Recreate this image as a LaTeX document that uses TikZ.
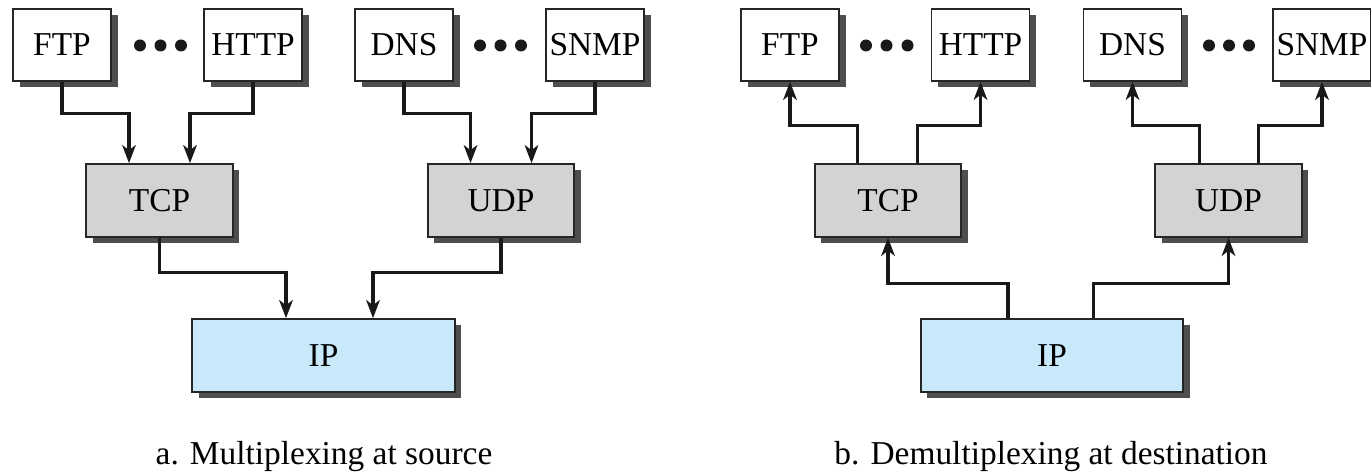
\documentclass[tikz,border=0pt]{standalone}
\usepackage{fontspec}
\setmainfont{Liberation Serif}
\newfontfamily\labelfont{Liberation Serif}
\usepackage{xcolor}
\usetikzlibrary{positioning,shadows,arrows.meta}
\definecolor{layergray}{RGB}{209,211,212}
\definecolor{iplayer}{RGB}{199,233,250}
\definecolor{shadowgray}{RGB}{78,78,80}
\tikzset{
  appbox/.style={draw=black!85, line width=0.9pt, fill=white,
    minimum width=1.96cm, minimum height=1.44cm, inner sep=0pt,
    font=\labelfont\fontsize{19}{22}\selectfont,
    drop shadow={shadow xshift=0.13cm, shadow yshift=-0.13cm, opacity=1, fill=shadowgray}},
  transbox/.style={appbox, fill=layergray, minimum width=2.93cm, minimum height=1.46cm},
  netbox/.style={appbox, fill=iplayer, minimum width=5.25cm, minimum height=1.46cm},
  flow/.style={line width=1.8pt, draw=black!90,
    -{Stealth[length=0.36cm, width=0.27cm, inset=0.1cm]}},
  caption/.style={font=\labelfont\fontsize{19}{22}\selectfont, anchor=base}
}

\begin{document}
\begin{tikzpicture}
        \useasboundingbox (0,0) rectangle (27.42,9.48);

        % a. Multiplexing at source
        \node[appbox] (ftpA) at (1.24,8.58) {FTP};
        \node[appbox] (httpA) at (5.06,8.58) {HTTP};
        \node[appbox] (dnsA) at (8.08,8.58) {DNS};
        \node[appbox] (snmpA) at (11.90,8.58) {SNMP};
        \node[transbox] (tcpA) at (3.19,5.47) {TCP};
        \node[transbox] (udpA) at (10.02,5.47) {UDP};
        \node[netbox] (ipA) at (6.47,2.37) {IP};
        \node[caption] (capA) at (6.48,0.18) {a. Multiplexing at source};

        % b. Demultiplexing at destination
        \node[appbox] (ftpB) at (15.80,8.58) {FTP};
        \node[appbox] (httpB) at (19.61,8.58) {HTTP};
        \node[appbox] (dnsB) at (22.65,8.58) {DNS};
        \node[appbox] (snmpB) at (26.44,8.58) {SNMP};
        \node[transbox] (tcpB) at (17.76,5.47) {TCP};
        \node[transbox] (udpB) at (24.57,5.47) {UDP};
        \node[netbox] (ipB) at (21.04,2.37) {IP};
        \node[caption] (capB) at (21.02,0.18) {b. Demultiplexing at destination};

        % Dots between applications
        \foreach \x in {2.80,3.21,3.62,9.60,10.01,10.42,17.32,17.73,18.15,24.18,24.58,24.98}
          \fill[black!90] (\x,8.57) circle (0.12);

        % Applications down to transport (source)
        \draw[flow] (ftpA.south) -- ++(0,-0.64) -| ([xshift=-0.61cm]tcpA.north);
        \draw[flow] (httpA.south) -- ++(0,-0.64) -| ([xshift=0.61cm]tcpA.north);
        \draw[flow] (dnsA.south) -- ++(0,-0.64) -| ([xshift=-0.61cm]udpA.north);
        \draw[flow] (snmpA.south) -- ++(0,-0.64) -| ([xshift=0.61cm]udpA.north);

        % Transport down to IP (source)
        \draw[flow] (tcpA.south) -- ++(0,-0.70) -| ([xshift=-0.75cm]ipA.north);
        \draw[flow] (udpA.south) -- ++(0,-0.70) -| ([xshift=0.99cm]ipA.north);

        % IP up to transport (destination)
        \draw[flow] ([xshift=-0.88cm]ipB.north) -- ++(0,0.70) -| (tcpB.south);
        \draw[flow] ([xshift=0.83cm]ipB.north) -- ++(0,0.70) -| (udpB.south);

        % Transport up to applications (destination)
        \draw[flow] ([xshift=-0.61cm]tcpB.north) -- ++(0,0.76) -| (ftpB.south);
        \draw[flow] ([xshift=0.59cm]tcpB.north) -- ++(0,0.76) -| (httpB.south);
        \draw[flow] ([xshift=-0.58cm]udpB.north) -- ++(0,0.76) -| (dnsB.south);
        \draw[flow] ([xshift=0.60cm]udpB.north) -- ++(0,0.76) -| (snmpB.south);
    \end{tikzpicture}
\end{document}
